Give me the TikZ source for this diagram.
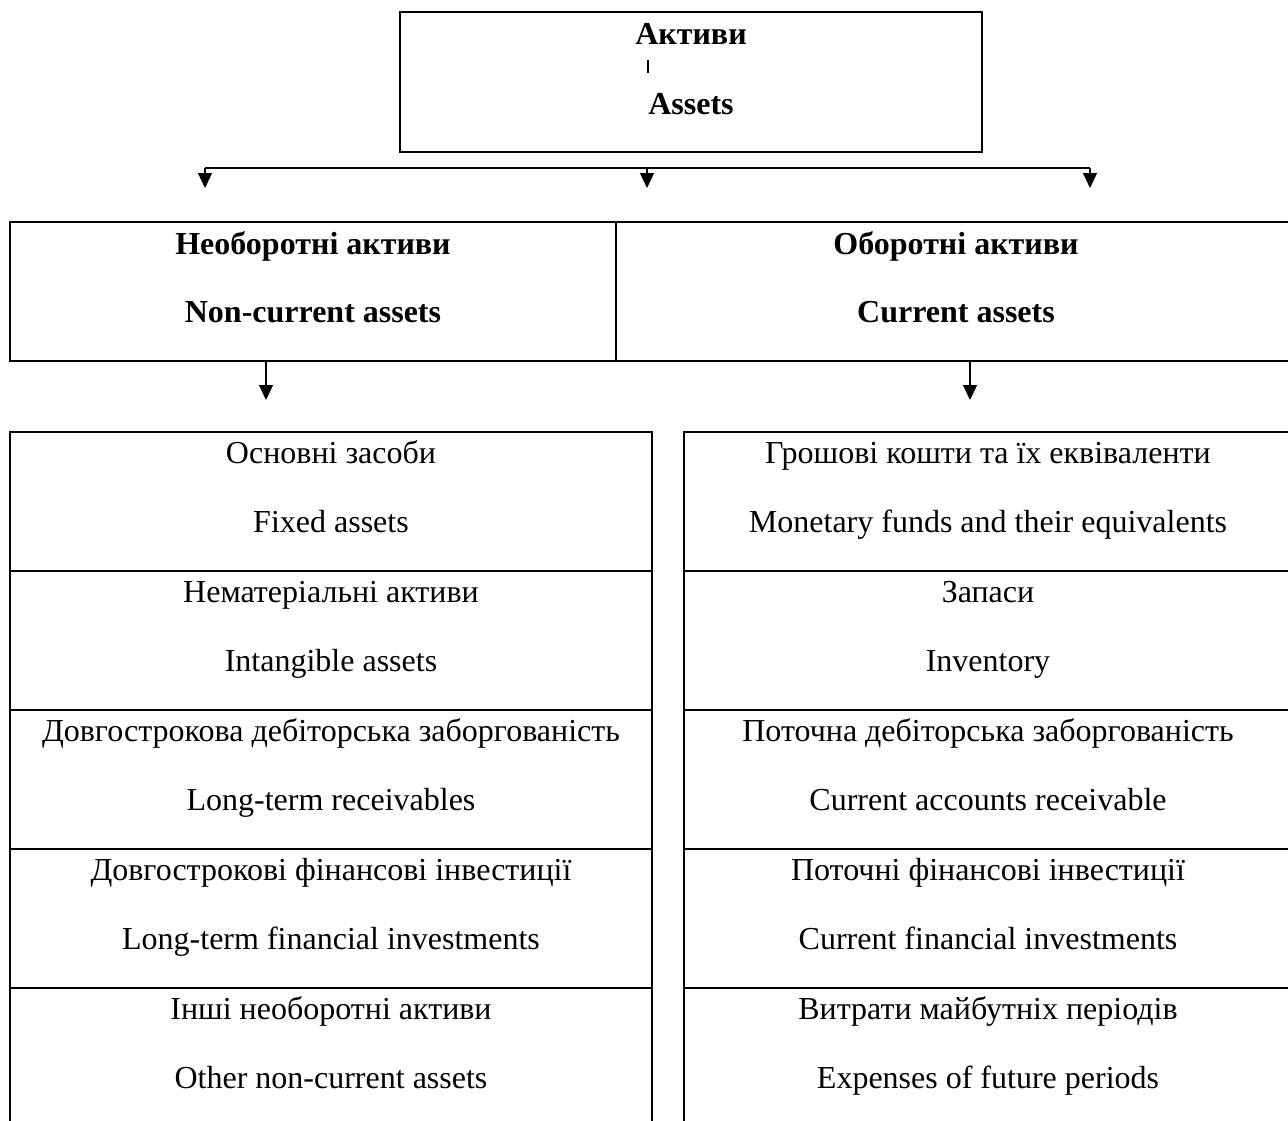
\documentclass[tikz,border=0pt]{standalone}
\usepackage{fontspec}
\setmainfont{Liberation Serif}
\usepackage{tikz}
\usetikzlibrary{arrows.meta,positioning,calc}

\begin{document}
\begin{tikzpicture}[
  x=0.5pt,y=-0.5pt,
  every node/.style={font=\fontsize{16}{19}\selectfont},
  box/.style={draw,line width=0.9pt,inner sep=0pt},
  txt/.style={anchor=base,inner sep=0pt},
  head/.style={txt,font=\fontsize{16}{19}\selectfont\bfseries},
  arr/.style={-{Triangle[length=7.5pt,width=7pt]},line width=0.6pt}
]
\useasboundingbox (0,0) rectangle (1288,1120);

% top box
\node[box,minimum width=291pt,minimum height=70pt] (assets) at (691,82) {};
\node[head] (assetsua) at ([yshift=-16.5pt]assets.north) {Активи};
\node[head] (assetsen) at ([yshift=-51.5pt]assets.north) {Assets};
\node[fill,inner sep=0pt,minimum width=0.7pt,minimum height=6.5pt] (caret) at (648,66) {};

% split
\coordinate (splitL) at (205,168);
\coordinate (splitM) at (647,168);
\coordinate (splitR) at (1090,168);
\coordinate (tipL) at (205,188);
\coordinate (tipM) at (647,188);
\coordinate (tipR) at (1090,188);
\draw[line width=0.6pt] (splitL) -- (splitR);
\draw[arr] (splitL) -- (tipL);
\draw[arr] (splitM) -- (tipM);
\draw[arr] (splitR) -- (tipR);

% groups
\node[box,minimum width=303pt,minimum height=69.5pt] (nca) at (313,291.5) {};
\node[box,minimum width=340pt,minimum height=69.5pt] (ca) at (956,291.5) {};
\node[head] (ncaua) at ([yshift=-16.5pt]nca.north) {Необоротні активи};
\node[head] (ncaen) at ([yshift=-50.5pt]nca.north) {Non-current assets};
\node[head] (caua) at ([yshift=-16.5pt]ca.north) {Оборотні активи};
\node[head] (caen) at ([yshift=-50.5pt]ca.north) {Current assets};

\coordinate (tipN) at (266,400);
\coordinate (tipC) at (970,400);
\draw[arr] (nca.south -| tipN) -- (tipN);
\draw[arr] (ca.south -| tipC) -- (tipC);

% items
\foreach \ua/\en [count=\i from 0] in {%
  Основні засоби/Fixed assets,
  Нематеріальні активи/Intangible assets,
  Довгострокова дебіторська заборгованість/Long-term receivables,
  Довгострокові фінансові інвестиції/Long-term financial investments,
  Інші необоротні активи/Other non-current assets}{
  \node[box,minimum width=321pt,minimum height=69.5pt] (nca\i) at (331,501.5+139*\i) {};
  \node[txt] (nca\i ua) at ([yshift=-16pt]nca\i.north) {\ua};
  \node[txt] (nca\i en) at ([yshift=-50.5pt]nca\i.north) {\en};
}
\foreach \ua/\en [count=\i from 0] in {%
  Грошові кошти та їх еквіваленти/Monetary funds and their equivalents,
  Запаси/Inventory,
  Поточна дебіторська заборгованість/Current accounts receivable,
  Поточні фінансові інвестиції/Current financial investments,
  Витрати майбутніх періодів/Expenses of future periods}{
  \node[box,minimum width=304pt,minimum height=69.5pt] (ca\i) at (988,501.5+139*\i) {};
  \node[txt] (ca\i ua) at ([yshift=-16pt]ca\i.north) {\ua};
  \node[txt] (ca\i en) at ([yshift=-50.5pt]ca\i.north) {\en};
}
\end{tikzpicture}
\end{document}
